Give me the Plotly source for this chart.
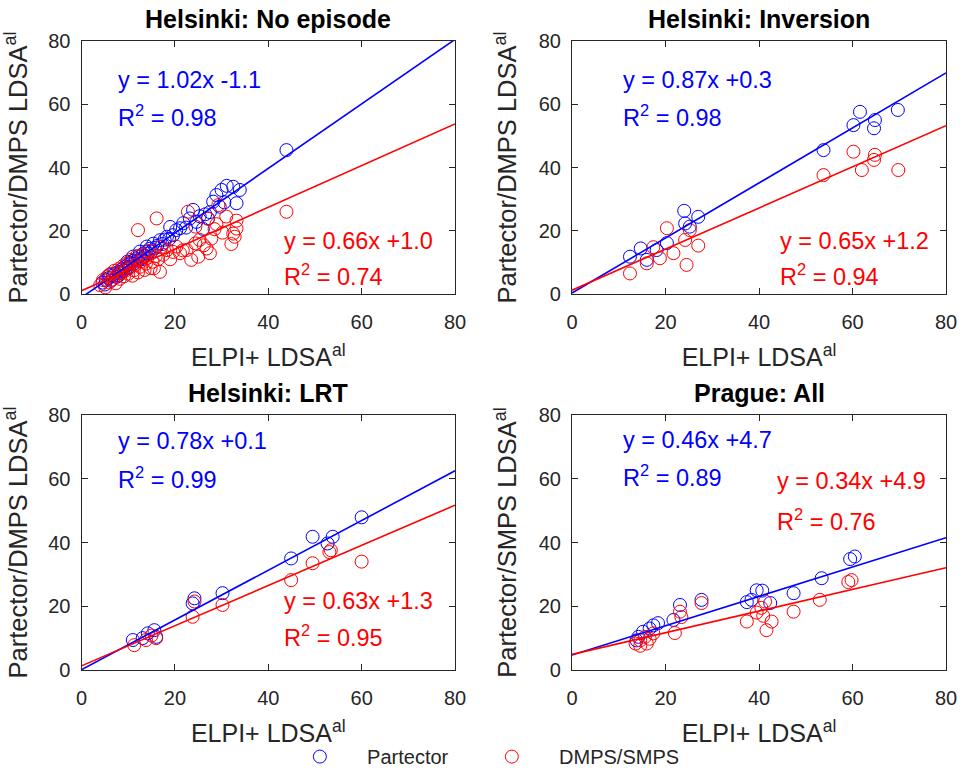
import plotly.graph_objects as go
from plotly.subplots import make_subplots

BLUE = "#0000FF"
RED = "#FF0000"

# ---------------- data ----------------
titles = ["Helsinki: No episode", "Helsinki: Inversion", "Helsinki: LRT", "Prague: All"]
y_titles = ["Partector/DMPS LDSA<sup>al</sup>", "Partector/DMPS LDSA<sup>al</sup>",
            "Partector/DMPS LDSA<sup>al</sup>", "Partector/SMPS LDSA<sup>al</sup>"]
x_title = "ELPI+ LDSA<sup>al</sup>"
tick_vals = [0, 20, 40, 60, 80]

# Panel 1: Helsinki no episode
p1_part_x = [4.5, 5.0, 5.2, 5.8, 6.0, 6.3, 6.8, 7.2, 7.5, 7.9, 8.0, 8.3, 8.6, 9.0, 9.3, 9.6, 9.8, 10.0,
             10.2, 10.5, 10.9, 11.0, 11.2, 11.6, 12.0, 12.3, 12.5, 12.7, 13.0, 13.1, 13.5, 13.8, 14.0,
             14.2, 14.6, 15.0, 15.4, 15.8, 16.2, 16.8, 17.3, 17.8, 18.3, 18.8, 19.0, 19.6, 20.3, 21.1,
             21.8, 22.4, 23.2, 23.9, 24.6, 25.3, 26.0, 26.5, 27.1, 27.5, 28.2, 28.9, 29.6, 30.0, 30.6,
             31.1, 32.5, 33.2, 33.9, 43.9]
p1_part_y = [3.6, 3.0, 4.5, 5.0, 6.0, 4.2, 5.8, 6.5, 5.4, 7.0, 5.9, 6.8, 7.8, 7.4, 8.6, 8.1, 10.2, 9.3,
             8.5, 9.8, 10.4, 11.8, 9.6, 11.0, 10.5, 11.9, 13.4, 11.2, 11.0, 12.6, 12.0, 13.4, 15.0,
             12.8, 14.3, 13.5, 15.9, 14.6, 15.2, 17.0, 15.8, 17.2, 18.1, 17.4, 21.2, 18.6, 20.2, 20.8,
             22.4, 21.0, 23.9, 26.6, 22.8, 24.6, 20.6, 25.2, 23.9, 25.9, 29.2, 31.3, 27.6, 32.9, 29.0,
             34.2, 33.9, 28.7, 32.9, 45.5]
p1_dmps_x = [4.0, 4.6, 5.1, 5.5, 5.9, 6.3, 6.7, 7.0, 7.3, 7.6, 8.0, 8.2, 8.5, 8.8, 9.1, 9.4, 9.7, 10.0,
             10.3, 10.6, 10.9, 11.2, 11.5, 11.8, 12.1, 12.1, 12.5, 12.8, 13.2, 13.5, 13.8, 14.1, 14.5,
             14.8, 15.2, 15.5, 15.9, 16.1, 16.4, 16.8, 17.0, 17.5, 18.3, 19.0, 19.6, 20.3, 21.1, 21.7,
             22.5, 22.8, 23.5, 24.4, 24.4, 25.0, 25.3, 26.2, 26.8, 27.1, 27.5, 27.8, 28.5, 28.9, 29.3,
             30.2, 31.0, 32.1, 32.5, 32.8, 33.2, 33.2, 43.9]
p1_dmps_y = [2.8, 4.4, 2.1, 5.5, 3.6, 6.4, 4.6, 7.3, 3.4, 5.8, 8.0, 4.8, 6.6, 8.8, 5.6, 7.4, 9.6, 6.4,
             8.2, 10.8, 5.8, 7.5, 9.2, 12.0, 6.8, 20.2, 8.6, 10.4, 12.5, 7.6, 9.6, 11.4, 13.6,
             8.2, 10.2, 8.1, 12.0, 23.9, 11.0, 7.0, 14.9, 12.4, 13.9, 11.0, 13.3, 15.0, 12.9, 13.8,
             13.9, 26.0, 10.8, 16.0, 21.3, 11.8, 17.1, 15.4, 14.4, 23.8, 12.9, 17.5, 20.5, 22.1, 28.1,
             19.4, 24.5, 15.8, 19.1, 18.1, 20.7, 23.2, 26.0]

# Panel 2: Helsinki inversion
p2_part_x = [12.4, 14.7, 16.0, 18.1, 20.3, 24.0, 24.2, 25.2, 27.0, 53.8, 60.2, 61.6, 64.6, 64.8, 69.7]
p2_part_y = [11.8, 14.4, 10.8, 13.9, 16.1, 26.3, 22.3, 21.3, 24.4, 45.5, 53.4, 57.6, 52.4, 55.0, 58.2]
p2_dmps_x = [12.4, 16.0, 17.4, 18.8, 20.3, 21.7, 24.2, 24.5, 25.2, 27.0, 53.8, 60.2, 62.0, 64.6, 64.8, 69.8]
p2_dmps_y = [6.5, 9.7, 14.8, 11.3, 20.8, 12.9, 17.1, 9.2, 20.2, 15.3, 37.6, 45.0, 39.2, 42.4, 44.0, 39.2]

# Panel 3: Helsinki LRT
p3_part_x = [11.0, 13.1, 14.2, 15.6, 16.0, 23.8, 24.2, 30.2, 44.9, 49.5, 52.7, 53.8, 60.0]
p3_part_y = [9.4, 10.0, 11.5, 12.5, 10.4, 20.9, 22.5, 24.1, 35.0, 41.8, 39.7, 41.8, 47.9]
p3_dmps_x = [11.3, 13.8, 15.0, 16.0, 23.8, 24.2, 30.2, 44.9, 49.5, 53.1, 53.4, 60.0]
p3_dmps_y = [7.8, 9.4, 10.8, 10.0, 16.7, 21.5, 20.4, 28.2, 33.5, 37.0, 37.6, 34.0]

# Panel 4: Prague all
p4_part_x = [13.8, 14.2, 15.2, 16.6, 17.4, 18.4, 21.7, 23.1, 27.7, 37.4, 38.4, 39.5, 40.7, 42.4,
             47.4, 53.4, 59.5, 60.5]
p4_part_y = [9.3, 10.4, 12.0, 13.0, 14.0, 14.7, 15.7, 20.4, 22.0, 21.3, 22.0, 25.0, 24.9, 21.0,
             24.1, 28.8, 34.8, 35.6]
p4_dmps_x = [13.6, 14.6, 14.6, 15.6, 16.0, 16.6, 17.4, 22.0, 23.1, 23.4, 27.7, 37.4, 39.5, 40.5,
             40.9, 41.3, 41.6, 42.7, 47.4, 53.0, 59.1, 59.8]
p4_dmps_y = [8.3, 9.3, 7.6, 10.4, 8.3, 9.8, 11.5, 11.6, 18.3, 16.6, 21.0, 15.2, 18.0, 19.5,
             17.0, 21.5, 12.5, 15.2, 18.3, 22.0, 27.6, 28.2]

part_x = [p1_part_x, p2_part_x, p3_part_x, p4_part_x]
part_y = [p1_part_y, p2_part_y, p3_part_y, p4_part_y]
dmps_x = [p1_dmps_x, p2_dmps_x, p3_dmps_x, p4_dmps_x]
dmps_y = [p1_dmps_y, p2_dmps_y, p3_dmps_y, p4_dmps_y]

# fit parameters (slope, intercept, R2)
part_fit = [(1.02, -1.1, "0.98"), (0.87, 0.3, "0.98"), (0.78, 0.1, "0.99"), (0.46, 4.7, "0.89")]
dmps_fit = [(0.66, 1.0, "0.74"), (0.65, 1.2, "0.94"), (0.63, 1.3, "0.95"), (0.34, 4.9, "0.76")]
eq_part_text = ["y = 1.02x -1.1", "y = 0.87x +0.3", "y = 0.78x +0.1", "y = 0.46x +4.7"]
eq_dmps_text = ["y = 0.66x +1.0", "y = 0.65x +1.2", "y = 0.63x +1.3", "y = 0.34x +4.9"]
# annotation anchor positions (data units): (x, y_eq, y_r2)
part_lab_pos = [(7.4, 67.7, 56.3), (10.5, 67.7, 56.3), (7.4, 71.8, 60.2), (10.5, 72.2, 60.9)]
dmps_lab_pos = [(43.0, 16.8, 6.0), (44.0, 16.8, 6.0), (42.9, 21.6, 10.7), (43.5, 59.3, 47.0)]

# ---------------- figure ----------------
W, H = 966, 773
fig = make_subplots(rows=2, cols=2)

xdom = [[81.5 / W, 455 / W], [572 / W, 946 / W]]
ydom = [[1 - 294 / H, 1 - 41 / H], [1 - 670 / H, 1 - 415 / H]]

FONT = "Liberation Sans, Arial, sans-serif"
AXC = "#262626"

for i in range(4):
    r, c = i // 2 + 1, i % 2 + 1
    sx, b, _ = part_fit[i]
    rx, rb, _ = dmps_fit[i]
    fig.add_trace(go.Scatter(x=part_x[i], y=part_y[i], mode="markers", name="Partector",
                             marker=dict(symbol="circle-open", size=13, color=BLUE, line=dict(width=1)),
                             showlegend=(i == 0), legendgroup="p", cliponaxis=True), row=r, col=c)
    fig.add_trace(go.Scatter(x=dmps_x[i], y=dmps_y[i], mode="markers", name="DMPS/SMPS",
                             marker=dict(symbol="circle-open", size=13, color=RED, line=dict(width=1)),
                             showlegend=(i == 0), legendgroup="d", cliponaxis=True), row=r, col=c)
    lx = [0, 80]
    fig.add_trace(go.Scatter(x=lx, y=[sx * v + b for v in lx], mode="lines",
                             line=dict(color=BLUE, width=1.6), showlegend=False), row=r, col=c)
    fig.add_trace(go.Scatter(x=lx, y=[rx * v + rb for v in lx], mode="lines",
                             line=dict(color=RED, width=1.6), showlegend=False), row=r, col=c)

    xa = "x" if i == 0 else f"x{i+1}"
    ya = "y" if i == 0 else f"y{i+1}"
    px, pye, pyr = part_lab_pos[i]
    dx, dye, dyr = dmps_lab_pos[i]
    for (tx, ty, txt, col) in [(px, pye, eq_part_text[i], BLUE),
                               (px, pyr, "R<sup>2</sup> = " + part_fit[i][2], BLUE),
                               (dx, dye, eq_dmps_text[i], RED),
                               (dx, dyr, "R<sup>2</sup> = " + dmps_fit[i][2], RED)]:
        fig.add_annotation(x=tx, y=ty, xref=xa, yref=ya, text=txt, showarrow=False,
                           xanchor="left", yanchor="middle",
                           font=dict(family=FONT, size=23.5, color=col))
    # panel title
    dom_x = xdom[c - 1]
    dom_y = ydom[r - 1]
    fig.add_annotation(x=(dom_x[0] + dom_x[1]) / 2, y=dom_y[1], xref="paper", yref="paper",
                       text="<b>" + titles[i] + "</b>", showarrow=False,
                       xanchor="center", yanchor="bottom", yshift=6,
                       font=dict(family=FONT, size=25, color="#000000"))

    axis_common = dict(range=[0, 80], tickvals=tick_vals, ticks="inside", ticklen=6,
                       tickcolor=AXC, showline=True, linecolor=AXC, linewidth=1.2, mirror="ticks",
                       showgrid=False, zeroline=False,
                       tickfont=dict(family=FONT, size=20, color=AXC))
    fig.update_xaxes(domain=dom_x, title=dict(text=x_title, font=dict(family=FONT, size=25, color=AXC),
                                              standoff=16),
                     ticklabelstandoff=10, automargin=False, **axis_common, row=r, col=c)
    fig.update_yaxes(domain=dom_y, title=dict(text=y_titles[i], font=dict(family=FONT, size=25.5, color=AXC),
                                              standoff=14),
                     ticklabelstandoff=6, automargin=False, **axis_common, row=r, col=c)

fig.update_layout(
    width=W, height=H,
    margin=dict(l=0, r=0, t=0, b=0, autoexpand=False),
    paper_bgcolor="white", plot_bgcolor="white",
    font=dict(family=FONT, color=AXC),
    legend=dict(orientation="h", x=0.504, xanchor="center", y=-0.004, yanchor="bottom",
                font=dict(family=FONT, size=20, color=AXC), itemwidth=40,
                entrywidth=137, entrywidthmode="pixels", bgcolor="rgba(0,0,0,0)"),
)
fig.data[0].name = "\u00a0\u00a0\u00a0\u00a0Partector"
fig.data[1].name = "\u00a0\u00a0\u00a0\u00a0DMPS/SMPS"

fig.write_html("out.html")
